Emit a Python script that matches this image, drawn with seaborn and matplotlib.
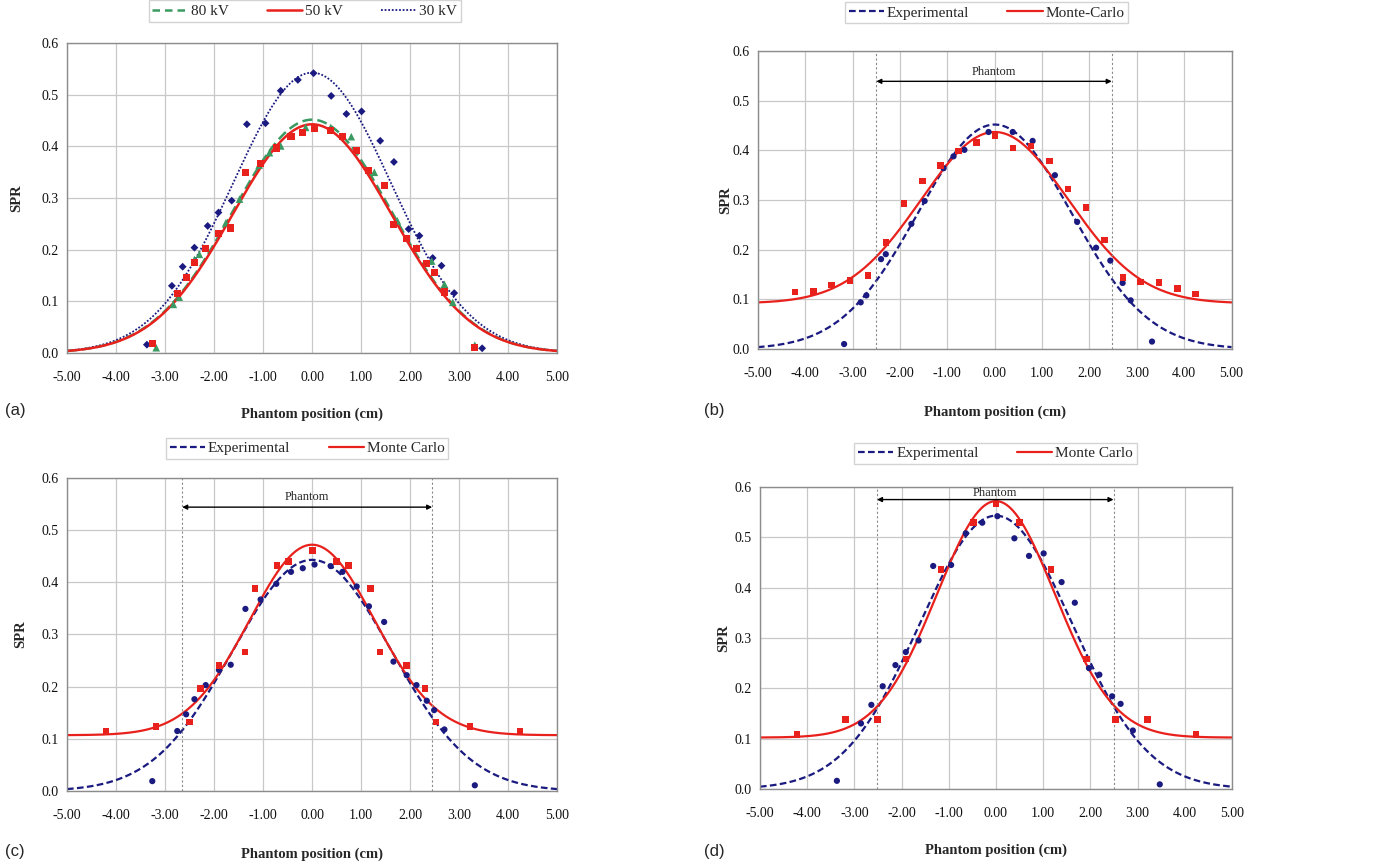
import numpy as np
import pandas as pd
import matplotlib
matplotlib.use("Agg")
import matplotlib.pyplot as plt
from matplotlib.lines import Line2D
import seaborn as sns

# ---------------- data ----------------
# 80 kV measured SPR (panel a triangles, panel b experimental)
x_80kv = [-3.18, -2.83, -2.71, -2.40, -2.30, -1.76, -1.48, -1.08, -0.87, -0.64,
          -0.13, 0.38, 0.80, 1.27, 1.74, 2.14, 2.44, 2.70, 2.87, 3.32]
y_80kv = [0.010, 0.094, 0.108, 0.181, 0.191, 0.252, 0.298, 0.364, 0.388, 0.401,
          0.437, 0.437, 0.419, 0.350, 0.256, 0.204, 0.178, 0.133, 0.098, 0.015]

# 50 kV measured SPR (panel a squares, panel c experimental)
x_50kv = [-3.26, -2.75, -2.57, -2.40, -2.17, -1.90, -1.66, -1.36, -1.05, -0.73,
          -0.43, -0.19, 0.05, 0.38, 0.62, 0.91, 1.16, 1.47, 1.66, 1.93,
          2.13, 2.34, 2.49, 2.70, 3.32]
y_50kv = [0.019, 0.115, 0.147, 0.176, 0.203, 0.232, 0.242, 0.349, 0.367, 0.397,
          0.420, 0.427, 0.434, 0.431, 0.420, 0.392, 0.354, 0.324, 0.248, 0.222,
          0.203, 0.173, 0.155, 0.118, 0.011]

# 30 kV measured SPR (panel a diamonds, panel d experimental)
x_30kv = [-3.37, -2.86, -2.64, -2.40, -2.13, -1.91, -1.64, -1.33, -0.95, -0.64,
          -0.29, 0.03, 0.39, 0.70, 1.01, 1.39, 1.67, 1.97, 2.19, 2.46,
          2.64, 2.90, 3.47]
y_30kv = [0.016, 0.130, 0.167, 0.204, 0.246, 0.272, 0.295, 0.443, 0.445, 0.508,
          0.529, 0.542, 0.498, 0.463, 0.468, 0.411, 0.370, 0.240, 0.227, 0.184,
          0.169, 0.116, 0.009]

# Monte-Carlo SPR, panel b
x_mc_b = [-4.22, -3.83, -3.45, -3.06, -2.68, -2.30, -1.92, -1.53, -1.15, -0.76,
          -0.38, 0.01, 0.39, 0.77, 1.16, 1.55, 1.93, 2.32, 2.71, 3.08,
          3.47, 3.86, 4.24]
y_mc_b = [0.115, 0.116, 0.129, 0.138, 0.148, 0.215, 0.293, 0.338, 0.370, 0.399,
          0.416, 0.429, 0.405, 0.409, 0.379, 0.322, 0.285, 0.220, 0.144, 0.135,
          0.134, 0.122, 0.111]

# Monte Carlo SPR, panel c
x_mc_c = [-4.20, -3.18, -2.50, -2.28, -1.90, -1.37, -1.16, -0.72, -0.48, 0.01,
          0.50, 0.74, 1.19, 1.39, 1.93, 2.30, 2.53, 3.22, 4.24]
y_mc_c = [0.115, 0.124, 0.132, 0.196, 0.241, 0.266, 0.388, 0.432, 0.440, 0.461,
          0.440, 0.432, 0.388, 0.266, 0.241, 0.196, 0.132, 0.124, 0.115]

# Monte Carlo SPR, panel d
x_mc_d = [-4.22, -3.19, -2.51, -1.91, -1.16, -0.48, 0.00, 0.50, 1.17, 1.92,
          2.53, 3.21, 4.24]
y_mc_d = [0.108, 0.138, 0.138, 0.258, 0.436, 0.529, 0.566, 0.529, 0.436, 0.258,
          0.138, 0.138, 0.108]

# Gaussian fit parameters of the curves: peak, sigma (cm), baseline
fit_80kv = [0.452, 1.62, 0.0]
fit_50kv = [0.443, 1.62, 0.0]
fit_30kv = [0.543, 1.61, 0.0]
fit_mc_b = [0.437, 1.55, 0.092]
fit_mc_c = [0.472, 1.27, 0.107]
fit_mc_d = [0.572, 1.25, 0.102]

# Phantom extent markers (cm)
phantom_b = [-2.50, 2.47]
phantom_c = [-2.65, 2.45]
phantom_d = [-2.52, 2.49]

x_ticks = [-5, -4, -3, -2, -1, 0, 1, 2, 3, 4, 5]
y_ticks = [0.0, 0.1, 0.2, 0.3, 0.4, 0.5, 0.6]

# ---------------- style ----------------
sns.set_theme(style="white")
plt.rcParams["font.family"] = ["Liberation Serif", "DejaVu Serif"]

NAVY = "#1a1a80"
RED = "#e8211d"
GREEN = "#3b9a62"
GRID = "#c8c8c8"

x_curve = np.linspace(-5, 5, 501)


def fit_curve(p):
    peak, sig, base = p
    return base + (peak - base) * np.exp(-x_curve ** 2 / (2 * sig ** 2))


def style_axes(ax, xpad, ypad):
    ax.set_xlim(-5, 5)
    ax.set_ylim(0, 0.6)
    ax.set_xticks(x_ticks)
    ax.set_yticks(y_ticks)
    ax.set_xticklabels([f"{t:.2f}" for t in x_ticks])
    ax.set_yticklabels([f"{t:.1f}" for t in y_ticks])
    ax.grid(True, color=GRID, lw=0.9)
    ax.set_axisbelow(True)
    for s in ax.spines.values():
        s.set_color("#8c8c8c")
        s.set_linewidth(1.0)
    ax.tick_params(axis="both", length=0, labelsize=10, colors="#111111")
    ax.tick_params(axis="x", pad=13)
    ax.tick_params(axis="y", pad=6)
    ax.set_xlabel("Phantom position (cm)", fontsize=10.5, fontweight="bold", labelpad=xpad)
    ax.set_ylabel("SPR", fontsize=10.5, fontweight="bold", labelpad=ypad)


def phantom(ax, lims, y_arrow, y_text):
    for v in lims:
        ax.axvline(v, color="#8a8a8a", lw=0.8, ls=(0, (2, 2)))
    ax.annotate("", xy=(lims[0], y_arrow), xytext=(lims[1], y_arrow),
                arrowprops=dict(arrowstyle="<|-|>", color="black", lw=1.0,
                                mutation_scale=7, shrinkA=0, shrinkB=0))
    ax.text(sum(lims) / 2, y_text, "Phantom", ha="center", va="center", fontsize=9)


def legend(ax, handles, labels, cx, dy, ncol):
    lg = ax.legend(handles, labels, loc="lower center", bbox_to_anchor=(cx, 1 + dy),
                   ncol=ncol, frameon=True, fancybox=False, fontsize=11,
                   handlelength=2.3, handletextpad=0.2, columnspacing=2.5,
                   borderpad=0.25)
    lg.get_frame().set_edgecolor("#c8c8c8")
    lg.get_frame().set_linewidth(1.0)


fig = plt.figure(figsize=(13.73, 8.65), dpi=100)
ax_a = fig.add_axes([0.0488, 0.592, 0.357, 0.358])
ax_b = fig.add_axes([0.552, 0.5965, 0.345, 0.3445])
ax_c = fig.add_axes([0.0488, 0.0855, 0.357, 0.362])
ax_d = fig.add_axes([0.5535, 0.088, 0.3438, 0.349])

# ---- panel a ----
ax = ax_a
sns.lineplot(x=x_curve, y=fit_curve(fit_30kv), ax=ax, color=NAVY, lw=1.3,
             linestyle=(0, (1, 1)))
sns.lineplot(x=x_curve, y=fit_curve(fit_80kv), ax=ax, color=GREEN, lw=1.8,
             linestyle=(0, (4, 2)))
sns.lineplot(x=x_curve, y=fit_curve(fit_50kv), ax=ax, color=RED, lw=1.8)
sns.scatterplot(x=x_30kv, y=y_30kv, ax=ax, marker="D", s=16, color=NAVY,
                edgecolor="none", zorder=5)
sns.scatterplot(x=x_80kv, y=y_80kv, ax=ax, marker="^", s=30, color=GREEN,
                edgecolor="none", zorder=5)
sns.scatterplot(x=x_50kv, y=y_50kv, ax=ax, marker="s", s=26, color=RED,
                edgecolor="none", zorder=6)
style_axes(ax, 17, 13)
legend(ax, [Line2D([], [], color=GREEN, lw=1.8, ls=(0, (3, 2))),
            Line2D([], [], color=RED, lw=1.8),
            Line2D([], [], color=NAVY, lw=1.3, ls=(0, (1, 1)))],
       ["80 kV", "50 kV", "30 kV"], 0.485, 0.045, 3)


def two_series(ax, xe, ye, fe, xm, ym, fm, mc_label, cx, dy, xpad, ypad):
    sns.lineplot(x=x_curve, y=fit_curve(fe), ax=ax, color=NAVY, lw=1.6,
                 linestyle=(0, (3, 1.5)))
    sns.lineplot(x=x_curve, y=fit_curve(fm), ax=ax, color=RED, lw=1.6)
    sns.scatterplot(x=xe, y=ye, ax=ax, marker="o", s=20, color=NAVY,
                    edgecolor="none", zorder=5)
    sns.scatterplot(x=xm, y=ym, ax=ax, marker="s", s=22, color=RED,
                    edgecolor="none", zorder=6)
    style_axes(ax, xpad, ypad)
    legend(ax, [Line2D([], [], color=NAVY, lw=1.6, ls=(0, (3, 1.5))),
                Line2D([], [], color=RED, lw=1.6)],
           ["Experimental", mc_label], cx, dy, 2)


two_series(ax_b, x_80kv, y_80kv, fit_80kv, x_mc_b, y_mc_b, fit_mc_b,
           "Monte-Carlo", 0.483, 0.067, 18, 0)
phantom(ax_b, phantom_b, 0.539, 0.558)

two_series(ax_c, x_50kv, y_50kv, fit_50kv, x_mc_c, y_mc_c, fit_mc_c,
           "Monte Carlo", 0.49, 0.035, 18, 10)
phantom(ax_c, phantom_c, 0.544, 0.563)

two_series(ax_d, x_30kv, y_30kv, fit_30kv, x_mc_d, y_mc_d, fit_mc_d,
           "Monte Carlo", 0.499, 0.05, 17, 3)
phantom(ax_d, phantom_d, 0.575, 0.588)

for lab, (fx, fy) in zip(["(a)", "(b)", "(c)", "(d)"],
                         [(0.004, 0.526), (0.513, 0.526), (0.004, 0.016), (0.513, 0.016)]):
    fig.text(fx, fy, lab, fontsize=12, family=["Liberation Sans", "DejaVu Sans"],
             ha="left", va="center")

fig.savefig("out.png", dpi=100, facecolor="white")
